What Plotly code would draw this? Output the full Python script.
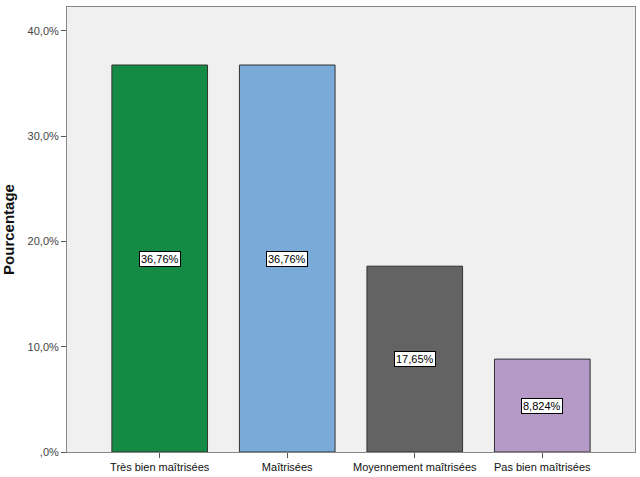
import plotly.graph_objects as go

categories = ["Très bien maîtrisées", "Maîtrisées", "Moyennement maîtrisées", "Pas bien maîtrisées"]
values = [36.76, 36.76, 17.65, 8.824]
labels = ["36,76%", "36,76%", "17,65%", "8,824%"]
colors = ["#148a45", "#7aaad7", "#636363", "#b59ac8"]
tick_vals = [0, 10, 20, 30, 40]
tick_text = [",0%", "10,0%", "20,0%", "30,0%", "40,0%"]

fig = go.Figure()
fig.add_trace(go.Bar(
    x=categories, y=values,
    marker=dict(color=colors, line=dict(color="#333333", width=1)),
    width=0.75, hoverinfo="skip",
))
for c, v, t in zip(categories, values, labels):
    fig.add_annotation(x=c, y=v / 2, text=t, showarrow=False,
                       bgcolor="white", bordercolor="black", borderwidth=1, borderpad=1,
                       font=dict(family="Liberation Sans, Arial", size=11, color="black"))

fig.update_layout(
    width=640, height=477,
    margin=dict(l=67, r=4, t=7, b=22),
    paper_bgcolor="white", plot_bgcolor="#f0f0f0",
    showlegend=False,
    font=dict(family="Liberation Sans, Arial", size=11, color="#222222"),
)
fig.update_xaxes(range=[-0.727, 3.727], showline=True, linecolor="#888888", mirror=True,
                 ticks="outside", ticklen=5, tickcolor="#555555",
                 tickfont=dict(size=11, color="#111111"), showgrid=False)
fig.update_yaxes(range=[0, 42.27], tickvals=tick_vals, ticktext=tick_text,
                 showline=True, linecolor="#888888", mirror=True,
                 ticks="outside", ticklen=5, tickcolor="#555555",
                 tickfont=dict(size=11, color="#444444"), showgrid=False, zeroline=False,
                 title=dict(text="<b>Pourcentage</b>", font=dict(size=15, color="#111111"), standoff=11))

fig.write_html("out.html")
